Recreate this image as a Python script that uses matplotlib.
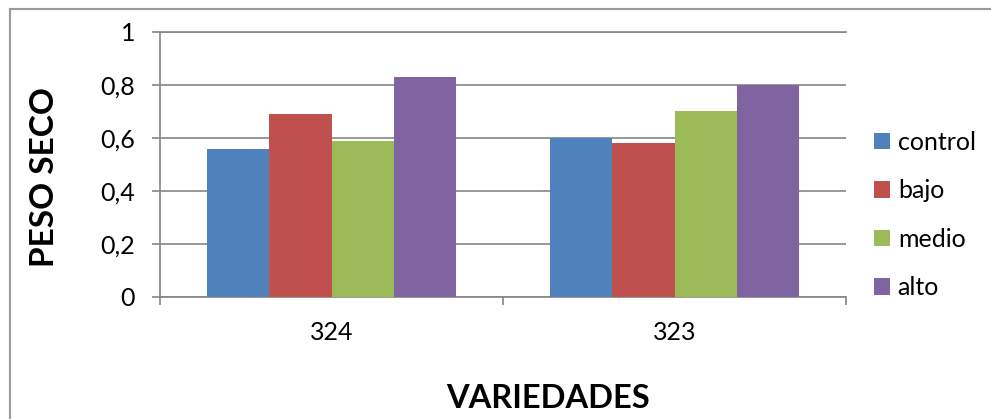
import numpy as np
import matplotlib
matplotlib.use("Agg")
import matplotlib.pyplot as plt
from matplotlib.lines import Line2D

plt.rcParams['font.family'] = ['Lato', 'DejaVu Sans']

# Data
variedades = ["324", "323"]
series_names = ["control", "bajo", "medio", "alto"]
control = [0.56, 0.60]
bajo = [0.69, 0.58]
medio = [0.59, 0.70]
alto = [0.83, 0.80]
y_ticks = [0, 0.2, 0.4, 0.6, 0.8, 1]
y_tick_labels = ["0", "0,2", "0,4", "0,6", "0,8", "1"]

colors = ["#4F81BD", "#C0504D", "#9BBB59", "#8064A2"]
axis_gray = "#868686"

W, H = 991, 419
fig = plt.figure(figsize=(W / 100, H / 100), dpi=100)

# outer chart frame (left and top edges only; the rest runs off the canvas)
frame_kw = dict(transform=fig.transFigure, color="#9a9a9a", lw=1.5)
fig.lines.append(Line2D([10 / W, 10 / W], [0, 1 - 9 / H], **frame_kw))
fig.lines.append(Line2D([10 / W, 1], [1 - 9 / H, 1 - 9 / H], **frame_kw))

ax = fig.add_axes([160 / W, 1 - 297 / H, 686 / W, 265 / H])

x = np.arange(len(variedades))
width = 0.182
values = [control, bajo, medio, alto]
for i, (name, vals) in enumerate(zip(series_names, values)):
    ax.bar(x + (i - 1.5) * width, vals, width, color=colors[i], label=name,
           zorder=3, linewidth=0)

ax.set_xlim(-0.5, 1.5)
ax.set_ylim(0, 1)
ax.set_yticks(y_ticks)
ax.set_yticklabels(y_tick_labels)
ax.set_xticks(x)
ax.set_xticklabels(variedades)
ax.set_xticks([-0.5, 0.5, 1.5], minor=True)

ax.yaxis.grid(True, color=axis_gray, lw=1.2, zorder=0)
ax.set_axisbelow(True)
ax.spines["right"].set_visible(False)
for s in ["left", "bottom", "top"]:
    ax.spines[s].set_color(axis_gray)
    ax.spines[s].set_linewidth(1.2)

ax.tick_params(axis="y", direction="out", length=6, width=1.2, color=axis_gray,
               pad=12, labelsize=18, labelcolor="black")
ax.tick_params(axis="x", which="major", length=0, pad=17, labelsize=18,
               labelcolor="black")
ax.tick_params(axis="x", which="minor", direction="out", length=5.5, width=1.2,
               color=axis_gray)

fig.text(45 / W, 1 - 177 / H, "PESO SECO", rotation=90, ha="center",
         va="center", fontsize=24, fontweight="bold")
fig.text(548 / W, 1 - 398 / H, "VARIEDADES", ha="center", va="center",
         fontsize=23.5, fontweight="bold")

ax.legend(loc="center left", bbox_to_anchor=(874 / W, 1 - 215 / H),
          bbox_transform=fig.transFigure, frameon=False, fontsize=18,
          handlelength=0.65, handleheight=0.65, handletextpad=0.3,
          labelspacing=1.02, borderaxespad=0, borderpad=0)

fig.savefig("out.png", dpi=100)
